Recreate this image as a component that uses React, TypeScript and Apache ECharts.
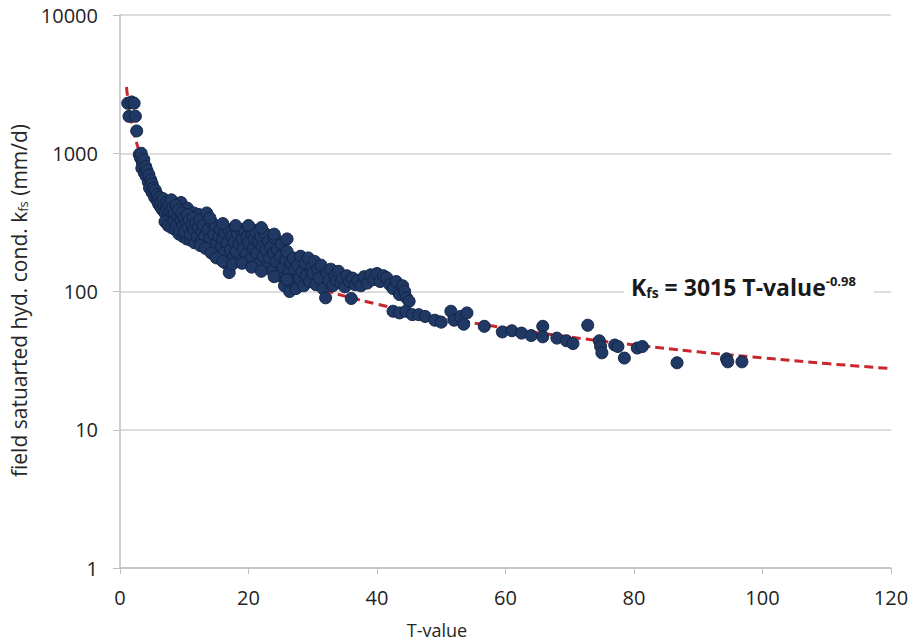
import React, { useEffect, useRef } from "react";
import * as echarts from "echarts";

const xTicks = [0, 20, 40, 60, 80, 100, 120];
const yTicks = [1, 10, 100, 1000, 10000];

// Measured points: [T-value, kfs (mm/d)]
const pointsSteep: number[][] = [
  [1.2, 2300], [1.8, 2350], [2.2, 2300], [1.4, 1850], [2.4, 1850], [2.6, 1450],
  [3.0, 980], [3.2, 920], [3.3, 1000], [3.5, 850], [3.4, 780], [3.7, 900], [3.8, 720],
  [4.0, 800], [4.1, 680], [4.2, 750], [4.4, 620], [4.5, 700], [4.6, 560], [4.8, 640],
  [5.0, 520], [5.0, 600], [5.2, 560],
  [5.4, 480], [5.5, 540], [5.7, 460], [5.8, 500], [6.0, 430], [6.1, 480], [6.3, 410],
  [6.4, 450], [6.6, 390], [6.7, 470], [6.9, 420], [7.0, 370], [7.2, 440], [7.3, 400],
  [7.5, 350], [7.6, 420], [7.8, 380], [8.0, 340], [8.0, 460],
  [7.0, 320], [7.5, 300], [8.0, 290], [8.6, 280], [9.2, 260], [9.8, 250], [10.4, 240],
  [11.0, 235], [11.6, 225], [9.5, 440], [10.5, 400], [11.5, 370], [12.3, 360],
];
const pointsMid: number[][] = [
  [8.2, 400], [8.4, 320], [8.5, 370], [8.7, 420], [8.8, 300], [9.0, 350], [9.1, 390],
  [9.3, 280], [9.5, 330], [9.6, 370], [9.8, 300], [10.0, 340], [10.1, 270], [10.3, 310],
  [10.5, 360], [10.6, 290], [10.8, 330], [11.0, 260], [11.2, 300], [11.4, 340], [11.5, 280],
  [11.8, 310], [12.0, 250], [12.2, 290],
  [12.4, 330], [12.6, 230], [12.8, 270], [13.0, 300], [13.2, 250], [13.5, 370], [13.4, 210],
  [13.7, 280], [14.0, 240], [14.2, 320], [14.4, 200], [14.6, 260], [14.8, 300], [15.0, 220],
  [15.2, 180], [15.4, 250], [15.6, 280], [15.8, 210], [16.0, 240], [16.2, 190], [16.3, 265],
  [16.5, 160], [16.7, 225], [16.9, 280], [17.0, 137], [17.2, 200], [17.4, 250], [17.6, 175],
  [17.8, 230], [18.0, 290], [18.1, 195], [18.3, 260], [18.5, 220], [18.7, 165], [18.9, 280],
  [19.0, 240], [19.2, 205], [19.4, 270], [19.6, 185], [19.8, 250], [20.0, 225], [20.2, 290],
  [20.3, 170], [20.5, 260], [20.7, 205], [20.9, 240],
  [21.1, 275], [21.3, 190], [21.5, 230], [21.7, 160], [21.9, 250], [22.1, 210], [22.3, 180],
  [22.5, 265], [22.7, 200], [22.9, 150], [23.1, 230], [23.3, 175], [23.5, 210], [23.7, 140],
  [23.9, 190], [24.1, 245], [24.3, 165], [24.5, 200], [24.7, 130], [25.0, 180], [25.2, 220],
  [25.4, 150], [25.6, 110], [25.8, 170], [26.0, 195], [26.2, 135], [26.4, 100], [26.6, 160],
  [26.8, 120], [27.0, 175], [27.2, 145],
  [12.5, 215], [13.3, 205], [14.2, 190], [15.0, 175], [16.0, 165], [17.5, 158], [19.0, 160],
  [20.5, 150], [22.0, 140], [24.0, 128], [26.0, 122],
  [14.0, 340], [16.0, 310], [18.0, 300], [20.0, 300], [22.0, 290], [24.0, 260], [26.0, 240],
];
const pointsLow: number[][] = [
  [27.4, 105], [27.6, 155], [27.9, 125], [28.1, 180], [28.3, 140], [28.6, 110], [28.8, 160],
  [29.0, 130], [29.3, 175], [29.5, 118], [29.8, 150], [30.0, 135], [30.3, 165], [30.5, 112],
  [30.8, 145], [31.0, 125], [31.3, 155], [31.6, 105], [32.0, 90], [32.2, 135], [32.5, 120],
  [32.8, 145], [33.1, 110], [33.4, 130], [33.7, 120], [34.0, 140], [34.3, 115], [34.6, 125],
  [35.0, 108], [35.3, 130], [35.7, 118], [36.0, 89], [36.2, 125], [36.6, 112],
  [37.0, 120], [37.5, 110], [38.0, 128], [38.5, 115], [39.0, 132], [39.5, 122], [40.0, 135],
  [40.5, 118], [41.0, 130], [41.5, 126], [42.0, 112], [42.5, 105], [43.0, 118], [43.5, 95],
  [44.0, 110], [44.3, 100], [44.6, 90], [45.0, 85],
];
const pointsTail: number[][] = [
  [42.5, 72], [43.5, 70], [44.5, 72], [45.5, 68], [46.5, 68], [47.5, 66], [49.0, 62], [50.0, 60],
  [51.5, 72], [52.0, 62], [53.0, 66], [53.5, 58], [54.0, 70], [56.7, 56],
  [59.5, 51], [61.0, 52], [62.5, 50], [64.0, 48], [65.8, 56], [65.8, 47],
  [68.0, 46], [69.5, 44], [70.5, 42], [72.8, 57], [74.6, 44], [74.8, 40], [75.0, 36],
  [77.0, 41], [77.5, 40], [78.5, 33], [80.5, 39], [81.3, 40], [86.7, 30.5],
  [94.4, 32.6], [94.6, 31], [96.8, 31],
];

// Trend line (K = 3015 T^-0.98)
const fitT = [1, 1.5, 2, 3, 4, 5, 6, 8, 10, 12, 15, 20, 25, 30, 40, 50, 60, 70, 80, 90, 100, 110, 120];
const fitK = [3015, 2026, 1529, 1027, 775, 623, 521, 393, 316, 264, 212, 160, 129, 108, 81, 65.2, 54.5, 46.9, 41.1, 36.6, 33.1, 30.1, 27.7];

export default function App() {
  const ref = useRef<HTMLDivElement>(null);
  useEffect(() => {
    document.body.style.margin = "0";
    if (!ref.current) return;
    const chart = echarts.init(ref.current, undefined, { renderer: "svg" });
    const scatter = [...pointsSteep, ...pointsMid, ...pointsLow, ...pointsTail];
    const fit = fitT.map((t, i) => [t, fitK[i]]);
    const font = "'Open Sans', 'DejaVu Sans', sans-serif";
    chart.setOption({
      animation: false,
      backgroundColor: "#ffffff",
      grid: { left: 120, right: 25, top: 15, bottom: 76, containLabel: false, outerBoundsMode: "none" },
      xAxis: {
        type: "value",
        min: xTicks[0],
        max: xTicks[xTicks.length - 1],
        interval: 20,
        axisLine: { show: true, lineStyle: { color: "#bfbfbf", width: 1.5 } },
        axisTick: { show: true, inside: false, length: 6, lineStyle: { color: "#bfbfbf" } },
        splitLine: { show: false },
        axisLabel: { color: "#1f1f1f", fontSize: 20, fontFamily: font, margin: 19 },
      },
      yAxis: {
        type: "log",
        logBase: 10,
        min: yTicks[0],
        max: yTicks[yTicks.length - 1],
        axisLine: { show: true, lineStyle: { color: "#bfbfbf", width: 1.5 } },
        axisTick: { show: true, inside: false, length: 7, lineStyle: { color: "#bfbfbf" } },
        splitLine: { show: true, lineStyle: { color: "#d0d0d0", width: 1.5 } },
        minorTick: { show: false },
        axisLabel: {
          color: "#1f1f1f",
          fontSize: 20,
          fontFamily: font,
          margin: 22,
          formatter: (v: number) => String(Math.round(v)),
        },
        name: "field satuarted hyd. cond. k{s|fs} (mm/d)",
        nameLocation: "middle",
        nameGap: 84,
        nameRotate: 90,
        nameTextStyle: {
          color: "#262626",
          fontSize: 21,
          fontFamily: font,
          padding: [0, 18, 0, 0],
          rich: { s: { fontSize: 13, fontFamily: font, color: "#262626", padding: [0, 0, -8, 0] } },
        },
      },
      graphic: [
        {
          type: "rect",
          shape: { x: 624, y: 276, width: 250, height: 32 },
          style: { fill: "#ffffff" },
          z: 10,
        },
        {
          type: "text",
          x: 631,
          y: 273,
          z: 11,
          style: {
            text: "{k|K}{s|fs}{k| = 3015 T-value}{p|-0.98}",
            fill: "#1a1a1a",
            rich: {
              k: { fontSize: 23, fontWeight: "bold", fontFamily: font, fill: "#1a1a1a", lineHeight: 28 },
              s: { fontSize: 14, fontWeight: "bold", fontFamily: font, fill: "#1a1a1a", padding: [11, 0, 0, 0] },
              p: { fontSize: 13, fontWeight: "bold", fontFamily: font, fill: "#1a1a1a", padding: [0, 0, 13, 0] },
            },
          },
        },
        {
          type: "text",
          x: 437,
          y: 630,
          style: {
            text: "T-value",
            fontSize: 18,
            fontFamily: font,
            fill: "#262626",
            align: "center",
            verticalAlign: "middle",
          },
        },
      ],
      series: [
        {
          type: "line",
          data: fit,
          showSymbol: false,
          symbol: "none",
          smooth: true,
          lineStyle: { color: "#c8282d", width: 3, type: [9, 5] },
          z: 2,
          silent: true,
        },
        {
          type: "scatter",
          data: scatter,
          symbol: "circle",
          symbolSize: 12,
          itemStyle: { color: "#1f3864", borderColor: "#132547", borderWidth: 1, opacity: 1 },
          z: 3,
        },
      ],
    });
    return () => chart.dispose();
  }, []);
  return <div ref={ref} style={{ width: 916, height: 644 }} />;
}
